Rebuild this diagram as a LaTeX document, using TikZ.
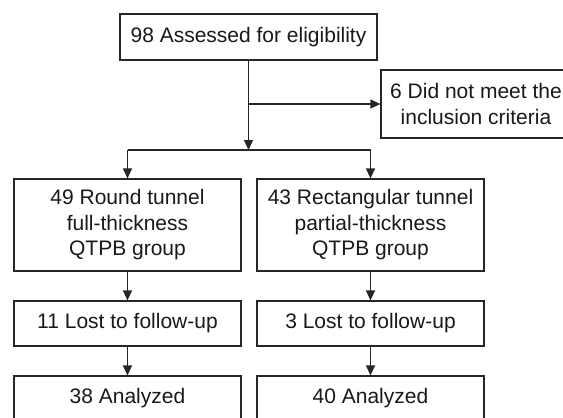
\documentclass[tikz,border=0pt]{standalone}
\usepackage{fontspec}
\setmainfont{Liberation Sans}
\usetikzlibrary{arrows.meta}
\begin{document}
\begin{tikzpicture}[x=1pt,y=1pt,
  box/.style={draw=black!85, line width=1.2pt, fill=white, align=center, inner sep=0pt,
    font=\fontsize{21}{25.5}\selectfont, text=black!90},
  arr/.style={draw=black!85, line width=1.2pt, -{Triangle[length=10pt,width=9pt]}},
  ln/.style={draw=black!85, line width=1.2pt}]
\useasboundingbox (0,0) rectangle (563,-418);
\clip (0,0) rectangle (563,-418);
\node[box, minimum width=257, minimum height=46] (top) at (248.5,-37) {98 Assessed for eligibility};
\node[box, minimum width=190, minimum height=68] (excl) at (476,-104) {6 Did not meet the\\inclusion criteria};
\node[box, minimum width=227, minimum height=92] (l1) at (127.5,-225) {49 Round tunnel\\full-thickness\\QTPB group};
\node[box, minimum width=227, minimum height=92] (r1) at (370.5,-225) {43 Rectangular tunnel\\partial-thickness\\QTPB group};
\node[box, minimum width=227, minimum height=45] (l2) at (127.5,-323.5) {11 Lost to follow-up};
\node[box, minimum width=227, minimum height=45] (r2) at (370.5,-323.5) {3 Lost to follow-up};
\node[box, minimum width=227, minimum height=45] (l3) at (127.5,-398.5) {38 Analyzed};
\node[box, minimum width=227, minimum height=45] (r3) at (370.5,-398.5) {40 Analyzed};
\coordinate (j) at (top.south |- 0,-150);
\coordinate (b) at (top.south |- excl.west);
\coordinate (lj) at (l1.north |- j);
\coordinate (rj) at (r1.north |- j);
\draw[arr] (top.south) -- (j);
\draw[arr] (b) -- (excl.west);
\draw[ln] (lj) -- (rj);
\draw[arr] (lj) -- (l1.north);
\draw[arr] (rj) -- (r1.north);
\draw[arr] (l1.south) -- (l2.north);
\draw[arr] (r1.south) -- (r2.north);
\draw[arr] (l2.south) -- (l3.north);
\draw[arr] (r2.south) -- (r3.north);
\end{tikzpicture}
\end{document}
